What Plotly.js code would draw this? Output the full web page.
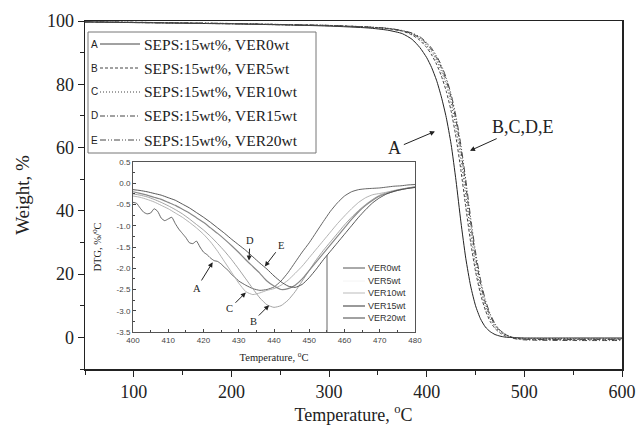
<!DOCTYPE html>
<html><head><meta charset="utf-8">
<script src="https://cdn.plot.ly/plotly-3.0.1.min.js"></script>
<style>html,body{margin:0;padding:0;background:#fff}#chart{width:636px;height:428px}</style>
</head><body><div id="chart"></div>
<script>
// ---------- Main TGA data ----------
const tgaTemp = [50,100,150,200,250,300,340,360,375,385,393,400,405,410,415,420,425,430,435,440,445,450,455,460,465,470,475,480,490,500,550,600];
const tgaA = [99.7,99.5,99.3,99.1,98.8,98.4,97.8,97.1,96.0,94.2,91.6,88.4,85.3,81.3,76.0,69.5,61.0,49.5,36.5,25.0,16.2,10.0,5.9,3.3,1.8,0.9,0.4,0.1,-0.1,-0.2,-0.2,-0.2];
const tgaB = [99.7,99.6,99.4,99.2,98.9,98.6,98.1,97.6,96.8,95.6,93.9,91.6,89.3,86.4,82.6,77.8,71.5,63.2,52.8,41.2,30.0,20.8,13.8,8.6,5.0,2.8,1.4,0.5,-0.3,-0.5,-0.6,-0.6];
const tgaC = [99.8,99.6,99.4,99.2,98.9,98.6,98.1,97.7,96.9,95.9,94.4,92.3,90.2,87.6,84.2,79.8,74.0,66.2,56.2,44.8,33.0,23.0,15.4,9.8,5.9,3.4,1.8,0.8,-0.1,-0.3,-0.4,-0.4];
const tgaD = [99.7,99.5,99.3,99.1,98.8,98.5,98.0,97.6,96.9,96.0,94.7,92.8,90.9,88.4,85.3,81.2,75.8,68.6,59.2,48.0,36.0,25.5,17.2,11.0,6.8,3.9,2.1,1.0,-0.4,-0.8,-1.0,-1.0];
const tgaE = [99.8,99.6,99.4,99.2,98.9,98.6,98.1,97.7,97.0,96.2,95.0,93.2,91.4,89.0,86.0,82.0,76.8,69.8,60.8,49.8,37.8,27.0,18.4,11.9,7.4,4.3,2.3,1.1,-0.2,-0.6,-0.7,-0.7];
const tgaLetters = ['A','B','C','D','E'];
const tgaNames = ['SEPS:15wt%, VER0wt','SEPS:15wt%, VER5wt','SEPS:15wt%, VER10wt','SEPS:15wt%, VER15wt','SEPS:15wt%, VER20wt'];

// ---------- Inset DTG data ----------
const dtgTempA = [400,401,402,403,404,405,406,407,408,409,410,411,412,413,414,415,416,417,418,419,420,421,422,423,424,425,426,427,428,429,430,432,434,436,438,440,442,444,446,448,450,452,454,456,458,460,462,464,466,468,470,472,474,476,478,480];
const dtgA = [-0.45,-0.47,-0.58,-0.68,-0.72,-0.70,-0.60,-0.66,-0.82,-0.88,-0.84,-0.80,-0.95,-1.08,-1.18,-1.28,-1.40,-1.42,-1.36,-1.50,-1.62,-1.68,-1.76,-1.82,-1.84,-1.90,-1.98,-2.05,-2.15,-2.22,-2.30,-2.40,-2.48,-2.52,-2.50,-2.44,-2.30,-2.10,-1.86,-1.62,-1.40,-1.15,-0.90,-0.66,-0.46,-0.30,-0.20,-0.15,-0.13,-0.12,-0.11,-0.09,-0.07,-0.06,-0.04,-0.03];
const dtgTemp = [400,402,404,406,408,410,412,414,416,418,420,422,424,426,428,430,432,434,436,438,440,442,444,446,448,450,452,454,456,458,460,462,464,466,468,470,472,474,476,478,480];
const dtgB = [-0.25,-0.28,-0.32,-0.38,-0.45,-0.53,-0.62,-0.72,-0.84,-0.97,-1.10,-1.25,-1.42,-1.60,-1.80,-2.02,-2.25,-2.48,-2.70,-2.86,-2.92,-2.88,-2.75,-2.55,-2.30,-2.05,-1.80,-1.58,-1.38,-1.18,-0.98,-0.80,-0.64,-0.50,-0.38,-0.28,-0.22,-0.18,-0.14,-0.11,-0.09];
const dtgC = [-0.30,-0.33,-0.38,-0.44,-0.52,-0.60,-0.70,-0.80,-0.92,-1.05,-1.20,-1.38,-1.60,-1.85,-2.10,-2.35,-2.55,-2.62,-2.58,-2.52,-2.48,-2.40,-2.28,-2.12,-1.95,-1.75,-1.55,-1.35,-1.15,-0.95,-0.77,-0.60,-0.45,-0.34,-0.27,-0.24,-0.21,-0.17,-0.14,-0.11,-0.08];
const dtgD = [-0.20,-0.24,-0.28,-0.33,-0.38,-0.45,-0.52,-0.61,-0.70,-0.81,-0.92,-1.05,-1.18,-1.32,-1.47,-1.63,-1.80,-1.96,-2.12,-2.30,-2.42,-2.50,-2.48,-2.40,-2.25,-2.05,-1.85,-1.65,-1.45,-1.25,-1.05,-0.85,-0.67,-0.52,-0.40,-0.30,-0.24,-0.19,-0.15,-0.12,-0.09];
const dtgE = [-0.15,-0.17,-0.20,-0.24,-0.28,-0.34,-0.40,-0.49,-0.58,-0.69,-0.80,-0.92,-1.05,-1.18,-1.32,-1.45,-1.58,-1.73,-1.88,-2.02,-2.18,-2.32,-2.42,-2.45,-2.38,-2.22,-2.02,-1.80,-1.60,-1.40,-1.20,-1.00,-0.80,-0.62,-0.46,-0.34,-0.25,-0.19,-0.15,-0.12,-0.10];
const dtgNames = ['VER0wt','VER5wt','VER10wt','VER15wt','VER20wt'];
const dtgTickVals = [0.5,0,-0.5,-1,-1.5,-2,-2.5,-3,-3.5];
const dtgTickText = ['0.5','0.0','-0.5','-1.0','-1.5','-2.0','-2.5','-3.0','-3.5'];

// ---------- layout helpers (pixel -> paper) ----------
const ML=85, MR=14, MT=21, MB=59, W=636, H=428;
const PW=W-ML-MR, PH=H-MT-MB;
const X = px => (px-ML)/PW;
const Y = py => (H-MB-py)/PH;

const serif = 'Liberation Serif, Times New Roman, serif';
const sans = 'Liberation Sans, Arial, sans-serif';

const mainDash = ['solid','3px,2px','1px,2px','5px,2px,1px,2px','6px,2px,1px,2px,1px,2px'];
const mainSeries = [tgaA,tgaB,tgaC,tgaD,tgaE];
const traces = [];
mainSeries.forEach((ys,i)=>{
  traces.push({x:tgaTemp, y:ys, type:'scatter', mode:'lines', xaxis:'x', yaxis:'y',
    line:{color: i===0?'#222':'#444', width:1, dash:mainDash[i], shape:'spline', smoothing:0.6},
    showlegend:false, hoverinfo:'skip'});
});
const dtgSeries = [[dtgTempA,dtgA],[dtgTemp,dtgB],[dtgTemp,dtgC],[dtgTemp,dtgD],[dtgTemp,dtgE]];
const dtgColors = ['#555','#999','#aaa','#888','#444'];
const dtgWidths = [0.9,0.9,0.9,1.2,0.9];
dtgSeries.forEach((s,i)=>{
  traces.push({x:s[0], y:s[1], type:'scatter', mode:'lines', xaxis:'x2', yaxis:'y2',
    line:{color:dtgColors[i], width:dtgWidths[i], shape:'spline', smoothing:0.5},
    showlegend:false, hoverinfo:'skip'});
});

const shapes = [];
const annotations = [];
// main legend box
shapes.push({type:'rect', xref:'paper', yref:'paper', x0:X(88), x1:X(316), y0:Y(153), y1:Y(32),
  line:{color:'#777', width:1}, fillcolor:'rgba(255,255,255,0)'});
const legRows = [44,68,92,116,140];
legRows.forEach((ry,i)=>{
  shapes.push({type:'line', xref:'paper', yref:'paper', x0:X(100), x1:X(140), y0:Y(ry), y1:Y(ry),
    line:{color:'#444', width:1, dash:mainDash[i]}});
  annotations.push({xref:'paper', yref:'paper', x:X(94), y:Y(ry), text:tgaLetters[i], showarrow:false,
    font:{family:sans, size:10, color:'#222'}, xanchor:'center', yanchor:'middle'});
  annotations.push({xref:'paper', yref:'paper', x:X(142), y:Y(ry), text:tgaNames[i], showarrow:false,
    font:{family:serif, size:15.5, color:'#222'}, xanchor:'left', yanchor:'middle'});
});
// inset legend
shapes.push({type:'line', xref:'paper', yref:'paper', x0:X(327), x1:X(327), y0:Y(332), y1:Y(255),
  line:{color:'#666', width:1}});
const insRows = [268,281,293,306,318];
const insLegColors = ['#555','#f4f4f4','#bbb','#999','#444'];
const insLegWidths = [1,1,1,2,1];
insRows.forEach((ry,i)=>{
  shapes.push({type:'line', xref:'paper', yref:'paper', x0:X(343), x1:X(365), y0:Y(ry), y1:Y(ry),
    line:{color:insLegColors[i], width:insLegWidths[i]}});
  annotations.push({xref:'paper', yref:'paper', x:X(366), y:Y(ry), text:dtgNames[i], showarrow:false,
    font:{family:sans, size:9, color:'#333'}, xanchor:'left', yanchor:'middle'});
});

// labels with arrows: text sits at the arrow tail (ax, ay pixel offsets), arrow points to (x, y)
function callout(xr,yr,x,y,ax,ay,t,size){
  annotations.push({xref:xr, yref:yr, x:x, y:y, ax:ax, ay:ay, text:t, showarrow:true,
    arrowhead:2, arrowsize:1, arrowwidth:1, arrowcolor:'#222', standoff:0, startstandoff:1,
    font:{family:serif, size:size, color:'#222'}});
}
callout('x','y',408.4,65.1,-40,17,'A',18);
callout('x','y',444.3,59.0,53,-24,'B,C,D,E',18);
callout('x2','y2',422.6,-1.86,-16,26,'A',10.5);
callout('x2','y2',438.6,-2.87,-16,16,'B',10.5);
callout('x2','y2',432,-2.57,-16,16,'C',10.5);
callout('x2','y2',432.9,-1.82,1,-20,'D',10.5);
callout('x2','y2',437.4,-1.96,16,-21,'E',10.5);

const layout = {
  width:W, height:H,
  margin:{l:ML, r:MR, t:MT, b:MB},
  paper_bgcolor:'#fff', plot_bgcolor:'#fff',
  showlegend:false,
  xaxis:{range:[50,600], dtick:100, tick0:0, ticks:'outside', ticklen:6, tickwidth:1, tickcolor:'#222',
    minor:{dtick:50, ticks:'outside', ticklen:4, tickcolor:'#222'},
    showline:true, mirror:true, linecolor:'#222', linewidth:1.5, showgrid:false, zeroline:false,
    tickfont:{family:serif, size:18, color:'#222'},
    title:{text:'Temperature, <sup>o</sup>C', font:{family:serif, size:18, color:'#222'}, standoff:0}},
  yaxis:{range:[-10,100], dtick:20, tick0:0, ticks:'outside', ticklen:6, tickwidth:1, tickcolor:'#222',
    minor:{dtick:10, ticks:'outside', ticklen:4, tickcolor:'#222'},
    showline:true, mirror:true, linecolor:'#222', linewidth:1.5, showgrid:false, zeroline:false,
    tickfont:{family:serif, size:18, color:'#222'},
    title:{text:'Weight, %', font:{family:serif, size:19, color:'#222'}, standoff:12}},
  xaxis2:{domain:[X(133),X(415)], anchor:'y2', range:[400,480], dtick:10, tick0:400, ticks:'inside', ticklen:3,
    tickcolor:'#444', minor:{dtick:5, ticks:'inside', ticklen:2, tickcolor:'#444'},
    showline:true, mirror:true, linecolor:'#555', linewidth:1, showgrid:false, zeroline:false,
    tickfont:{family:sans, size:8, color:'#444'},
    title:{text:'Temperature, <sup>o</sup>C', font:{family:serif, size:10.5, color:'#222'}, standoff:10}},
  yaxis2:{domain:[Y(332),Y(162)], anchor:'x2', range:[-3.5,0.5], tickvals:dtgTickVals, ticktext:dtgTickText,
    ticks:'inside', ticklen:3, tickcolor:'#444', minor:{dtick:0.25, ticks:'inside', ticklen:2, tickcolor:'#444'},
    showline:true, mirror:true, linecolor:'#555', linewidth:1, showgrid:false, zeroline:false,
    tickfont:{family:sans, size:8, color:'#444'},
    title:{text:'DTG, %/<sup>o</sup>C', font:{family:serif, size:10.5, color:'#222'}, standoff:12}},
  shapes:shapes, annotations:annotations
};
Plotly.newPlot('chart', traces, layout, {staticPlot:true, displayModeBar:false});
</script></body></html>
